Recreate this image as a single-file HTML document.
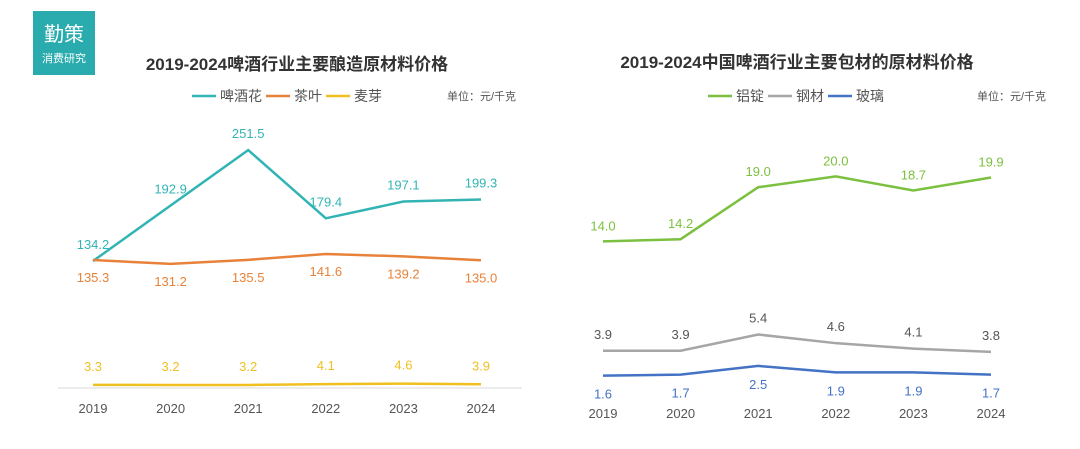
<!DOCTYPE html>
<html><head><meta charset="utf-8"><style>
body{margin:0;background:#fff;width:1080px;height:444px;overflow:hidden;font-family:"Liberation Sans","Noto Sans CJK SC",sans-serif}
svg text{font-family:"Liberation Sans","Noto Sans CJK SC",sans-serif}
</style></head><body>
<svg id="c" width="1080" height="444" xmlns="http://www.w3.org/2000/svg">
<g>
<rect x="33" y="11" width="62" height="64" fill="#2aabae"/>
<text x="64" y="41" font-size="20" fill="#fff" text-anchor="middle" font-family="Noto Serif CJK SC,serif">勤策</text>
<text x="64" y="62" font-size="11" fill="#fff" text-anchor="middle">消费研究</text>
</g>
<text x="297" y="70" font-size="17" font-weight="bold" fill="#333" text-anchor="middle">2019-2024啤酒行业主要酿造原材料价格</text>
<text x="797" y="68" font-size="17" font-weight="bold" fill="#333" text-anchor="middle">2019-2024中国啤酒行业主要包材的原材料价格</text>
<text x="447" y="100" font-size="11" fill="#555">单位：元/千克</text>
<text x="977" y="100" font-size="11" fill="#555">单位：元/千克</text>
<g id="legL"></g><g id="legR"></g>
<line x1="58" y1="388" x2="522" y2="388" stroke="#d9d9d9"/>
<g id="plot"></g>
</svg>
<script>
const years=["2019","2020","2021","2022","2023","2024"];
const hops=[134.2,192.9,251.5,179.4,197.1,199.3];
const tea=[135.3,131.2,135.5,141.6,139.2,135.0];
const malt=[3.3,3.2,3.2,4.1,4.6,3.9];
const alu=[14.0,14.2,19.0,20.0,18.7,19.9];
const steel=[3.9,3.9,5.4,4.6,4.1,3.8];
const glass=[1.6,1.7,2.5,1.9,1.9,1.7];
const NS="http://www.w3.org/2000/svg";
const plot=document.getElementById('plot');
function mk(tag,attrs,parent){const e=document.createElementNS(NS,tag);for(const k in attrs)e.setAttribute(k,attrs[k]);(parent||plot).appendChild(e);return e;}
const xL=i=>93+i*77.6, yL=v=>388-0.946*v;
const xR=i=>603+i*77.6, yR=v=>393-10.83*v;
function series(data,xf,yf,color,name,labelDy,labelColor){
  const p=mk('polyline',{points:data.map((v,i)=>xf(i)+','+yf(v)).join(' '),fill:'none',stroke:color,'stroke-width':2.5});
  
  
  data.forEach((v,i)=>{
    const t=mk('text',{x:xf(i),y:yf(v)+labelDy,'font-size':13,fill:labelColor||color,'text-anchor':'middle'});
    t.textContent=v.toFixed(1);
    
    
  });
}
series(hops,xL,yL,'#33b4b4','hops',-12);
series(tea,xL,yL,'#e8823a','tea',22);
series(malt,xL,yL,'#f0c020','malt',-14);
series(alu,xR,yR,'#7cc040','aluminum',-11);
series(steel,xR,yR,'#a6a6a6','steel',-12,'#555');
series(glass,xR,yR,'#4472c4','glass',23);
years.forEach((y,i)=>{
  [[xL,413],[xR,418]].forEach(([f,yy])=>{
    const t=mk('text',{x:f(i),y:yy,'font-size':13,fill:'#555','text-anchor':'middle'});
    t.textContent=y;
    
    
  });
});
function legend(id,x,items){
  const g=document.getElementById(id);
  items.forEach(([n,c])=>{
    mk('line',{x1:x,y1:96,x2:x+24,y2:96,stroke:c,'stroke-width':2.5},g);
    const t=mk('text',{x:x+28,y:101,'font-size':14,fill:'#555'},g);
    t.textContent=n;
    
    
    x+=28+n.length*14+4;
  });
}
legend('legL',192,[['啤酒花','#33b4b4'],['茶叶','#e8823a'],['麦芽','#f0c020']]);
legend('legR',708,[['铝锭','#7cc040'],['钢材','#a6a6a6'],['玻璃','#4472c4']]);
</script>
</body></html>
